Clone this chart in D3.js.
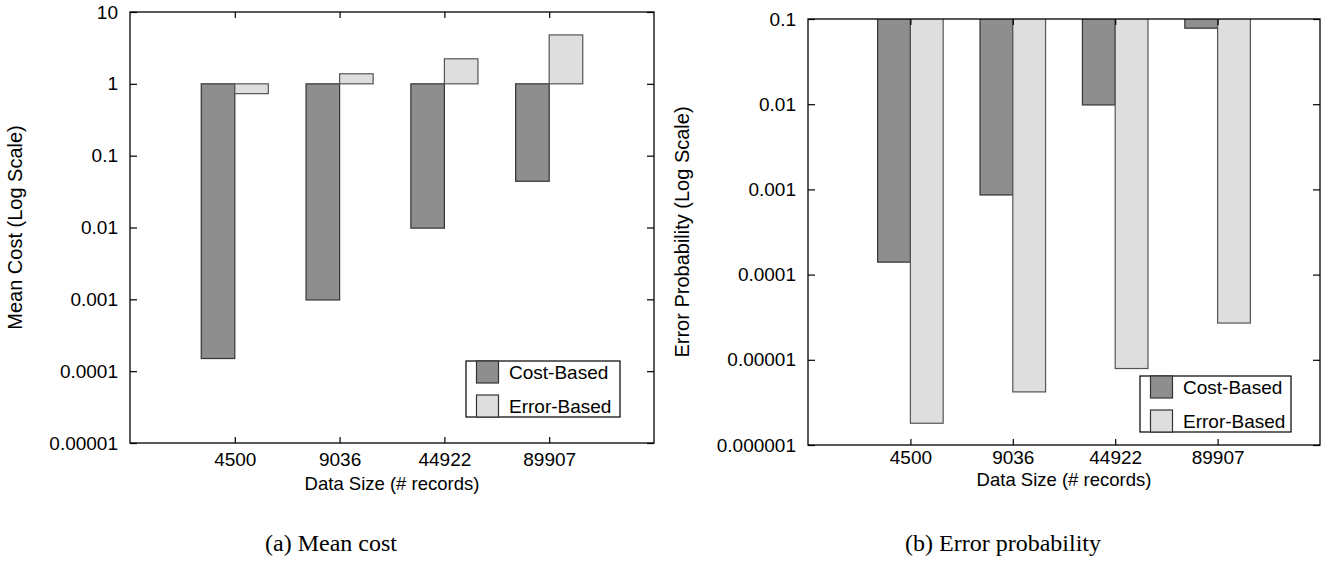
<!DOCTYPE html>
<html>
<head>
<meta charset="utf-8">
<script src="https://cdn.jsdelivr.net/npm/d3@7"></script>
<style>
  body { margin: 0; background: #fff; }
  svg text { font-family: "Liberation Sans", Arial, Helvetica, sans-serif; fill: #000; }
  .caption { font-family: "Liberation Serif", "Times New Roman", serif !important; }
</style>
</head>
<body>
<svg width="1335" height="562"></svg>
<script>
var svg = d3.select("svg");

// data
var sizes = ["4500", "9036", "44922", "89907"];
var seriesNames = ["Cost-Based", "Error-Based"];

var meanCostCost = [0.00015, 0.00098, 0.0098, 0.044];
var meanCostError = [0.73, 1.38, 2.23, 4.8];

var errProbCost = [0.00014, 0.00086, 0.0098, 0.078];
var errProbError = [0.0000018, 0.0000042, 0.0000079, 0.000027];

var meanTicks = [10, 1, 0.1, 0.01, 0.001, 0.0001, 0.00001];
var meanTickLabels = ["10", "1", "0.1", "0.01", "0.001", "0.0001", "0.00001"];
var errTicks = [0.1, 0.01, 0.001, 0.0001, 0.00001, 0.000001];
var errTickLabels = ["0.1", "0.01", "0.001", "0.0001", "0.00001", "0.000001"];

var fills = ["#8e8e8e", "#dedede"];
var strokes = ["#333", "#555"];

drawPanel({
    id: "a",
    left: 130, right: 654, top: 12, bottom: 443,
    domain: [0.00001, 10],
    ticks: meanTicks, tickLabels: meanTickLabels,
    series: [meanCostCost, meanCostError],
    ylabel: "Mean Cost (Log Scale)", ylabelX: 22,
    xtickY: 23, xlabelY: 47,
    legend: { x: 466, y: 361, w: 154, h: 56 },
    caption: "(a) Mean cost", captionX: 331
});

drawPanel({
    id: "b",
    left: 808, right: 1320, top: 19, bottom: 445,
    domain: [0.000001, 0.1],
    ticks: errTicks, tickLabels: errTickLabels,
    series: [errProbCost, errProbError],
    ylabel: "Error Probability (Log Scale)", ylabelX: 689,
    xtickY: 19, xlabelY: 41,
    legend: { x: 1140, y: 376, w: 151, h: 56 },
    caption: "(b) Error probability", captionX: 1003
});

function drawPanel(c) {
    var g = svg.append("g").attr("class", "panel-" + c.id);

    var x = d3.scaleLinear()
        .domain([0, sizes.length + 1])
        .range([c.left, c.right]);

    var y = d3.scaleLog()
        .domain(c.domain)
        .range([c.bottom, c.top]);

    var boxWidth = 0.32;

    g.append("clipPath")
        .attr("id", "clip-" + c.id)
        .append("rect")
        .attr("x", c.left).attr("y", c.top)
        .attr("width", c.right - c.left).attr("height", c.bottom - c.top);

    var bars = g.append("g").attr("clip-path", "url(#clip-" + c.id + ")");

    // gnuplot-style boxes on a log axis start from 1
    c.series.forEach((vals, s) => {
        bars.selectAll(".bar-" + s)
            .data(vals)
            .enter().append("rect")
            .attr("class", "bar-" + s)
            .attr("x", (d, i) => x(i + 1 + (s == 0 ? -boxWidth : 0)))
            .attr("width", x(boxWidth) - x(0))
            .attr("y", d => y(Math.max(d, 1)))
            .attr("height", d => Math.abs(y(d) - y(1)))
            .style("fill", fills[s])
            .style("stroke", strokes[s])
            .style("stroke-width", 1.2);
    });

    // frame
    g.append("rect")
        .attr("x", c.left).attr("y", c.top)
        .attr("width", c.right - c.left).attr("height", c.bottom - c.top)
        .style("fill", "none")
        .style("stroke", "#000")
        .style("stroke-width", 1.3);

    var positions = sizes.map((d, i) => i + 1);

    var left = g.append("g")
        .attr("transform", "translate(" + c.left + ",0)")
        .call(d3.axisLeft(y).tickValues(c.ticks)
            .tickFormat((d, i) => c.tickLabels[i])
            .tickSizeInner(-7).tickSizeOuter(0).tickPadding(12));

    var right = g.append("g")
        .attr("transform", "translate(" + c.right + ",0)")
        .call(d3.axisRight(y).tickValues(c.ticks)
            .tickFormat("").tickSizeInner(-7).tickSizeOuter(0));

    var bottom = g.append("g")
        .attr("transform", "translate(0," + c.bottom + ")")
        .call(d3.axisBottom(x).tickValues(positions)
            .tickFormat((d, i) => sizes[i])
            .tickSizeInner(-6).tickSizeOuter(0).tickPadding(c.xtickY - 13));

    var top = g.append("g")
        .attr("transform", "translate(0," + c.top + ")")
        .call(d3.axisTop(x).tickValues(positions)
            .tickFormat("").tickSizeInner(-6).tickSizeOuter(0));

    [left, right, bottom, top].forEach(a => {
        a.select(".domain").remove();
        a.selectAll(".tick line").style("stroke", "#000").style("stroke-width", 1.2);
        a.selectAll(".tick text")
            .style("font-family", '"Liberation Sans", Arial, Helvetica, sans-serif')
            .style("font-size", "19px");
    });

    g.append("text")
        .attr("x", (c.left + c.right) / 2)
        .attr("y", c.bottom + c.xlabelY)
        .attr("text-anchor", "middle")
        .style("font-size", "18.5px")
        .text("Data Size (# records)");

    g.append("text")
        .attr("transform", "translate(" + c.ylabelX + "," + (c.top + c.bottom) / 2 + ") rotate(-90)")
        .attr("text-anchor", "middle")
        .style("font-size", "20px")
        .text(c.ylabel);

    // legend
    var lg = g.append("g").attr("transform", "translate(" + c.legend.x + "," + c.legend.y + ")");
    lg.append("rect")
        .attr("width", c.legend.w).attr("height", c.legend.h)
        .style("fill", "#fff").style("stroke", "#000").style("stroke-width", 1.2);
    seriesNames.forEach((name, s) => {
        lg.append("rect")
            .attr("x", 10.5).attr("y", s * 34)
            .attr("width", 22).attr("height", 22)
            .style("fill", fills[s]).style("stroke", "#333").style("stroke-width", 1.2);
        lg.append("text")
            .attr("x", 43).attr("y", 11 + s * 34)
            .attr("dy", "0.35em")
            .style("font-size", "19px")
            .text(name);
    });

    g.append("text")
        .attr("class", "caption")
        .attr("x", c.captionX)
        .attr("y", 551)
        .attr("text-anchor", "middle")
        .style("font-size", "24px")
        .text(c.caption);
}
</script>
</body>
</html>
